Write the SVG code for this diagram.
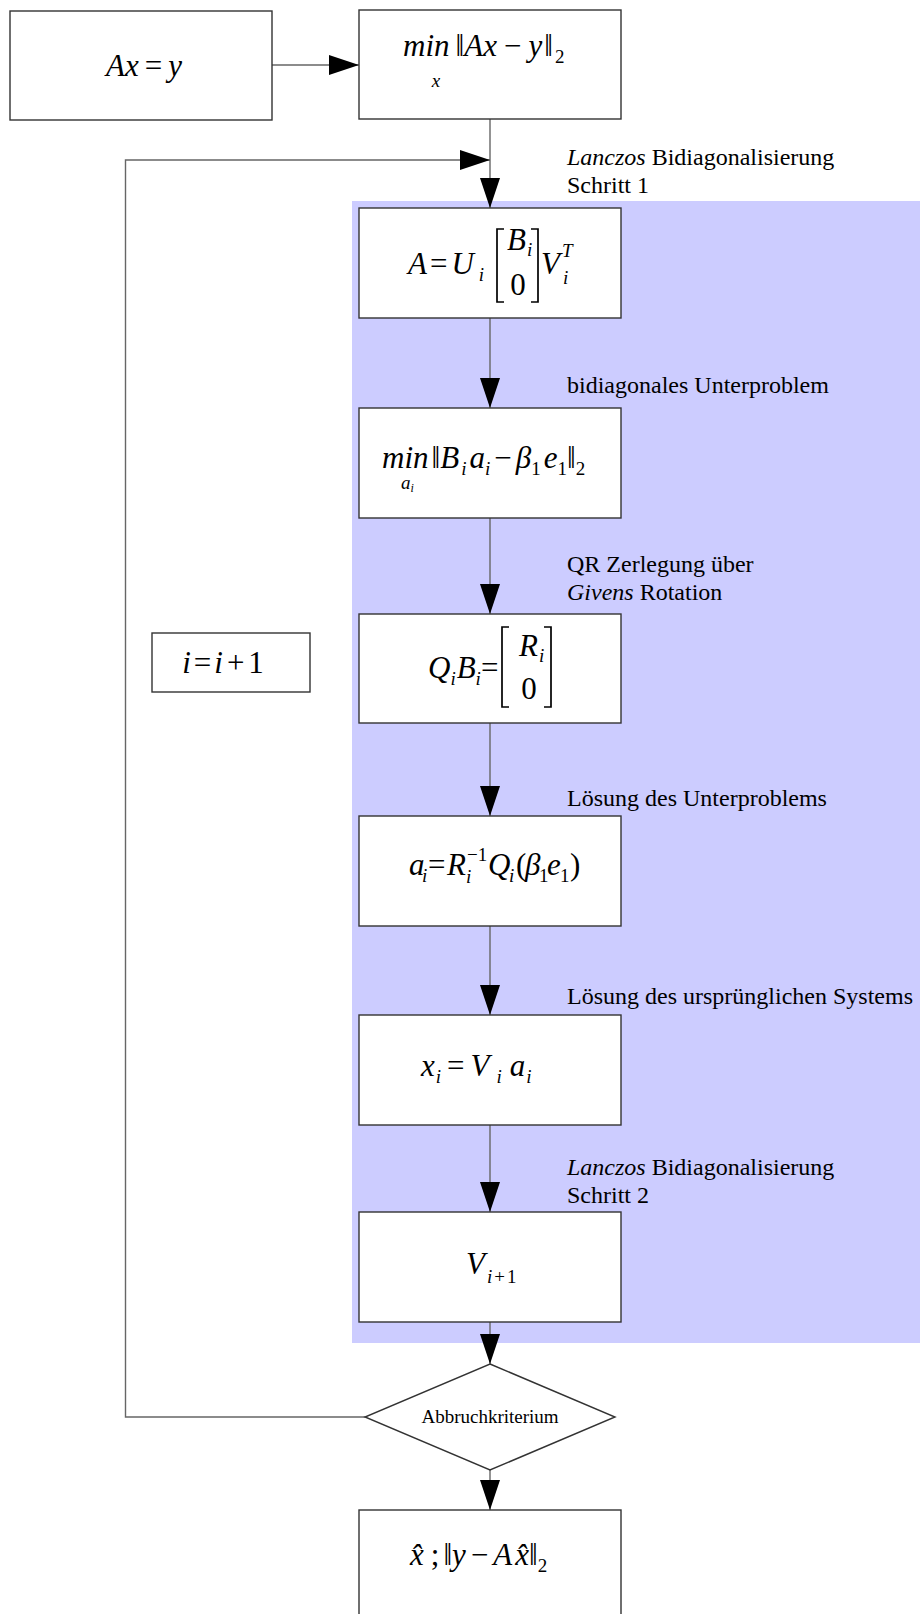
<svg xmlns="http://www.w3.org/2000/svg" width="920" height="1614" viewBox="0 0 920 1614">
<defs>
<marker id="ah" markerUnits="userSpaceOnUse" markerWidth="30" markerHeight="20" refX="30" refY="10" orient="auto"><path d="M0,0 L30,10 L0,20 z" fill="#000"/></marker>
<style>
.box{fill:#fff;stroke:#333;stroke-width:1.4}
.conn{fill:none;stroke:#666;stroke-width:1.4}
.lbl{font-family:"Liberation Serif",serif;font-size:24px;fill:#000}
.m{font-family:"Liberation Serif","DejaVu Serif",serif;font-size:31px;font-style:italic;fill:#000}
.r{font-style:normal}
.s{font-size:19px}
.br{fill:none;stroke:#000;stroke-width:1.7}
</style>
</defs>
<rect x="0" y="0" width="920" height="1614" fill="#fff"/>
<rect id="region" x="352" y="201" width="568" height="1142" fill="#ccccff"/>

<g id="connectors">
<path class="conn" d="M272,65 H359" marker-end="url(#ah)"/>
<path class="conn" d="M490,119 V208" marker-end="url(#ah)"/>
<path class="conn" d="M365,1417 H125.5 V160 H490" marker-end="url(#ah)"/>
<path class="conn" d="M490,318 V408" marker-end="url(#ah)"/>
<path class="conn" d="M490,518 V614" marker-end="url(#ah)"/>
<path class="conn" d="M490,723 V816" marker-end="url(#ah)"/>
<path class="conn" d="M490,926 V1015" marker-end="url(#ah)"/>
<path class="conn" d="M490,1125 V1212" marker-end="url(#ah)"/>
<path class="conn" d="M490,1322 V1364" marker-end="url(#ah)"/>
<path class="conn" d="M490,1470 V1510" marker-end="url(#ah)"/>
</g>

<g id="labels">
<text class="lbl" x="567" y="165"><tspan font-style="italic">Lanczos</tspan> Bidiagonalisierung</text>
<text class="lbl" x="567" y="193">Schritt 1</text>
<text class="lbl" x="567" y="393">bidiagonales Unterproblem</text>
<text class="lbl" x="567" y="572">QR Zerlegung über</text>
<text class="lbl" x="567" y="600"><tspan font-style="italic">Givens</tspan> Rotation</text>
<text class="lbl" x="567" y="806">Lösung des Unterproblems</text>
<text class="lbl" x="567" y="1004">Lösung des ursprünglichen Systems</text>
<text class="lbl" x="567" y="1175"><tspan font-style="italic">Lanczos</tspan> Bidiagonalisierung</text>
<text class="lbl" x="567" y="1203">Schritt 2</text>
</g>

<g id="n1">
<rect class="box" x="10" y="11" width="262" height="109"/>
<text class="m" x="144" y="76" text-anchor="middle">Ax<tspan class="r" dx="6">=</tspan><tspan dx="6">y</tspan></text>
</g>

<g id="n2">
<rect class="box" x="359" y="10" width="262" height="109"/>
<text class="m" x="403" y="56">min<tspan class="r" dx="6">‖</tspan>Ax<tspan class="r" dx="7">−</tspan><tspan dx="7">y</tspan><tspan class="r" dx="2">‖</tspan><tspan class="r s" dx="2" dy="7">2</tspan></text>
<text class="m s" x="436" y="87" text-anchor="middle">x</text>
</g>

<g id="n3">
<rect class="box" x="359" y="208" width="262" height="110"/>
<text class="m" x="408" y="274">A<tspan class="r" dx="3">=</tspan><tspan dx="4">U</tspan><tspan class="s" dx="5" dy="7">i</tspan></text>
<path class="br" d="M504,229 H497 V302 H504"/>
<text class="m" x="507" y="250" font-size="27px">B<tspan class="s" font-size="17px" dx="1" dy="6">i</tspan></text>
<text class="m r" x="518" y="295" text-anchor="middle" font-size="29px">0</text>
<path class="br" d="M531,229 H538 V302 H531"/>
<text class="m" x="541" y="274">V</text>
<text class="m s" x="562" y="257">T</text>
<text class="m s" x="563" y="284">i</text>
</g>

<g id="n4">
<rect class="box" x="359" y="408" width="262" height="110"/>
<text class="m" x="382" y="468">min<tspan class="r" dx="3">‖</tspan>B<tspan class="s" dx="2" dy="7">i</tspan><tspan dx="3" dy="-7">a</tspan><tspan class="s" dy="7">i</tspan><tspan class="r" dx="4" dy="-7">−</tspan><tspan dx="4">β</tspan><tspan class="r s" dy="7">1</tspan><tspan dx="3" dy="-7">e</tspan><tspan class="r s" dy="7">1</tspan><tspan class="r" dy="-7">‖</tspan><tspan class="r s" dy="7">2</tspan></text>
<text class="m s" x="401" y="489">a<tspan font-size="12px" dy="3">i</tspan></text>
</g>

<g id="n5">
<rect class="box" x="359" y="614" width="262" height="109"/>
<text class="m" x="428" y="678">Q<tspan class="s" dy="7">i</tspan><tspan dx="1" dy="-7">B</tspan><tspan class="s" dy="7">i</tspan><tspan class="r" dy="-7">=</tspan></text>
<path class="br" d="M509,627 H502 V707 H509"/>
<text class="m" x="519" y="656">R<tspan class="s" dx="1" dy="6">i</tspan></text>
<text class="m r" x="529" y="699" text-anchor="middle">0</text>
<path class="br" d="M544,627 H551 V707 H544"/>
</g>

<g id="n_inc">
<rect class="box" x="152" y="633" width="158" height="59"/>
<text class="m" x="223" y="673" text-anchor="middle">i<tspan class="r" dx="3">=</tspan><tspan dx="3">i</tspan><tspan class="r" dx="4">+</tspan><tspan class="r" dx="4">1</tspan></text>
</g>

<g id="n6">
<rect class="box" x="359" y="816" width="262" height="110"/>
<text class="m" x="409" y="875">a</text>
<text class="m s" x="422" y="882">i</text>
<text class="m r" x="428" y="875">=</text>
<text class="m" x="447" y="875">R</text>
<text class="m r s" x="467" y="861">−1</text>
<text class="m s" x="466" y="883">i</text>
<text class="m" x="488" y="875">Q</text>
<text class="m s" x="509" y="882">i</text>
<text class="m r" x="516" y="875">(</text>
<text class="m" x="525" y="875">β</text>
<text class="m r s" x="539" y="882">1</text>
<text class="m" x="547" y="875">e</text>
<text class="m r s" x="560" y="882">1</text>
<text class="m r" x="570" y="875">)</text>
</g>

<g id="n7">
<rect class="box" x="359" y="1015" width="262" height="110"/>
<text class="m" x="421" y="1076">x<tspan class="s" dx="1" dy="7">i</tspan><tspan class="r" dx="6" dy="-7">=</tspan><tspan dx="6">V</tspan><tspan class="s" dx="7" dy="7">i</tspan><tspan dx="8" dy="-7">a</tspan><tspan class="s" dx="1" dy="7">i</tspan></text>
</g>

<g id="n8">
<rect class="box" x="359" y="1212" width="262" height="110"/>
<text class="m" x="466" y="1274">V<tspan class="s" font-size="22px" dx="2" dy="9">i</tspan><tspan class="r s" font-size="22px" dx="2">+</tspan><tspan class="r s" font-size="22px" dx="2">1</tspan></text>
</g>

<g id="decision">
<polygon points="490,1364 615,1417 490,1470 365,1417" fill="#fff" stroke="#333" stroke-width="1.4"/>
<text x="490" y="1423" text-anchor="middle" font-family="Liberation Serif, serif" font-size="19px" fill="#000">Abbruchkriterium</text>
</g>

<g id="n9">
<rect class="box" x="359" y="1510" width="262" height="110"/>
<text class="m" x="410" y="1565">x̂<tspan class="r" dx="7">;</tspan><tspan class="r" dx="4">‖</tspan>y<tspan class="r" dx="5">−</tspan><tspan dx="5">A</tspan><tspan dx="3">x̂</tspan><tspan class="r">‖</tspan><tspan class="r s" dy="7">2</tspan></text>
</g>
</svg>
